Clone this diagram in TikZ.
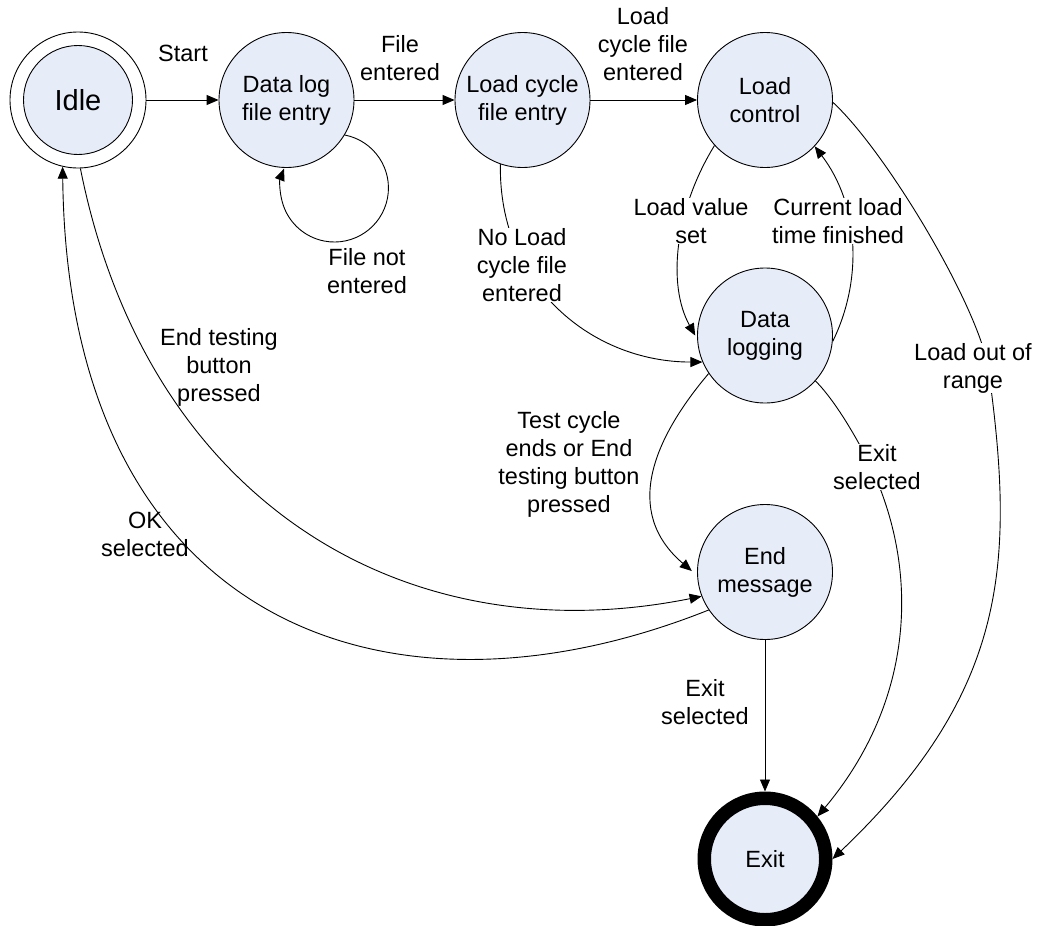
\documentclass[tikz,border=0pt]{standalone}
\usepackage{fontspec}
\setmainfont{Liberation Sans}
\usetikzlibrary{arrows.meta}
\definecolor{statefill}{RGB}{230,236,248}
\begin{document}
\begin{tikzpicture}[x=1pt, y=-1pt,
  txt/.style={font=\fontsize{23.5}{28}\selectfont, align=center},
  state/.style={circle, draw, line width=0.9pt, fill=statefill, minimum size=135pt, inner sep=0pt, txt},
  lbl/.style={txt, inner sep=0pt},
  hide/.style={fill=white},
  arr/.style={line width=0.9pt, -{Triangle[length=12pt,width=10pt]}}]
\useasboundingbox (0,0) rectangle (1039,926);

% states
\node[circle, draw, line width=0.9pt, minimum size=136pt, inner sep=0pt] (idle) at (78,100) {};
\node[circle, draw, line width=0.9pt, fill=statefill, minimum size=109pt, inner sep=0pt,
      font=\fontsize{29}{34}\selectfont] (idlein) at (78,100) {Idle};
\node[state] (dlf)  at (286.5,100) {Data log\\file entry};
\node[state] (lcf)  at (522.5,100) {Load cycle\\file entry};
\node[state] (lc)   at (765,100)   {Load\\control};
\node[state] (dlog) at (765,335.5) {Data\\logging};
\node[state] (endm) at (765,572)   {End\\message};
\node[state, line width=13.5pt, minimum size=121.5pt] (exit) at (765,859) {Exit};

% transitions
\draw[arr] (idle) -- (dlf);
\draw[arr] (dlf) -- (lcf);
\draw[arr] (lcf) -- (lc);
\draw[arr] (dlf.-31) arc[start angle=-79, end angle=201, radius=54];
\draw[arr] (lcf.-109) .. controls +(-2,122) and +(-110,0) .. (dlog.-157);
\draw[arr, shorten >=4pt] (lc.-138) .. controls +(-40,65) and +(-30,-54) .. (dlog.183);
\draw[arr] (dlog.-5) .. controls +(30,-61) and +(45,59) .. (lc.-43);

\coordinate (lorc) at (988,366);
\draw[arr] (lc.-2) .. controls +(52,48) and +(-13,-66) .. (lorc)
  .. controls +(27,194) and +(177.5,-169) .. (exit.0);

\coordinate (esc) at (870,465);
\draw[arr] (dlog.-42) .. controls +(20,20) and +(-12,-25) .. (esc)
  .. controls +(50,105) and +(97.5,-116.5) .. (exit.39);

\draw[arr, shorten >=7pt] (dlog.-146) .. controls +(-55,65) and +(-75,-64) .. (endm.183);
\draw[arr] (idle.-88) .. controls +(66,331) and +(-300,60) .. (endm.201);
\draw[arr] (endm.-146) .. controls +(-326,130) and +(5,453) .. (idle.-103);
\draw[arr] (endm) -- (exit);

% transition labels
\node[lbl] (lStart) at (183,53) {Start};
\node[lbl] (lFile) at (400,58) {File\\entered};
\node[lbl] (lLcf) at (643,44.5) {Load\\cycle file\\entered};
\node[lbl] (lNot) at (367,271) {File not\\entered};
\node[lbl, hide] (lNoLoad) at (522,265) {No Load\\cycle file\\entered};
\node[lbl, hide] (lSet) at (691,221) {Load value\\set};
\node[lbl, hide] (lCur) at (838,221) {Current load\\time finished};
\node[lbl, hide] (lOut) at (973,368) {Load out of\\range};
\node[lbl, hide] (lExit1) at (877,467) {Exit\\selected};
\node[lbl] (lTest) at (569,464) {Test cycle\\ends or End\\testing button\\pressed};
\node[lbl] (lEndBtn) at (219,367) {End testing\\button\\pressed};
\node[lbl] (lOK) at (145,534) {OK\\selected};
\node[lbl] (lExit2) at (705,702) {Exit\\selected};
\end{tikzpicture}
\end{document}
